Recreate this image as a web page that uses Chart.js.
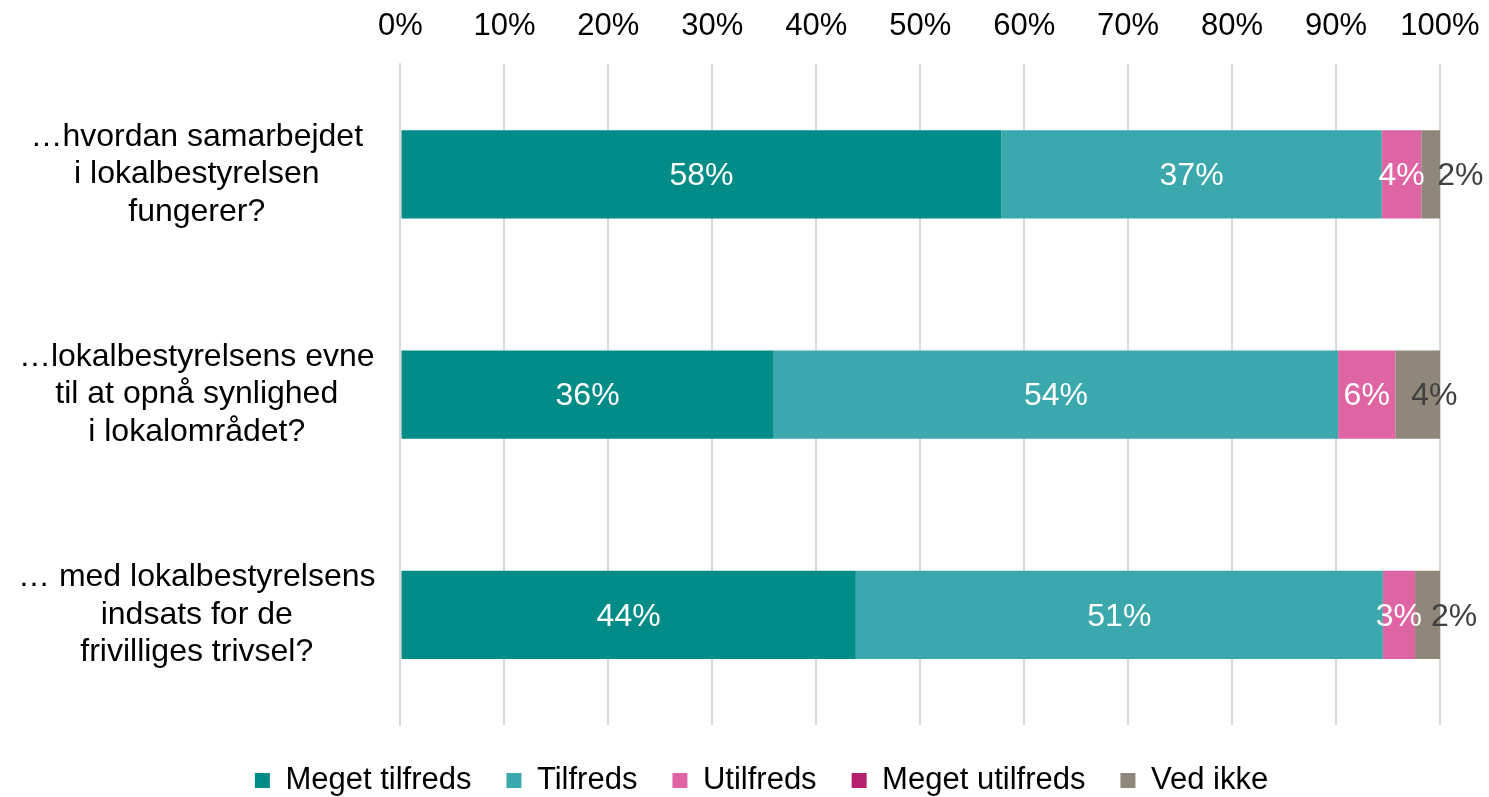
<!DOCTYPE html>
<html>
<head>
<meta charset="utf-8">
<script src="https://cdn.jsdelivr.net/npm/chart.js@4"></script>
<style>
  html, body { margin: 0; padding: 0; background: #fff; }
  #wrap { width: 1489px; height: 797px; }
</style>
</head>
<body>
<div id="wrap"><canvas id="chart1"></canvas></div>
<script>
// questions (y categories)
var questions = [
  ['\u2026hvordan samarbejdet', 'i lokalbestyrelsen', 'fungerer?'],
  ['\u2026lokalbestyrelsens evne', 'til at opn\u00e5 synlighed', 'i lokalomr\u00e5det?'],
  ['\u2026 med lokalbestyrelsens', 'indsats for de', 'frivilliges trivsel?']
]

// series, in percent
var megetTilfreds = [57.8, 35.9, 43.8]
var tilfreds = [36.6, 54.3, 50.7]
var utilfreds = [3.8, 5.5, 3.1]
var megetUtilfreds = [0, 0, 0]
var vedIkke = [1.8, 4.3, 2.4]

var seriesNames = ['Meget tilfreds', 'Tilfreds', 'Utilfreds', 'Meget utilfreds', 'Ved ikke']
var seriesColors = ['#028C87', '#3AA8AC', '#DE64A4', '#B5216E', '#8E877A']

var FONT = "'Liberation Sans', Arial, sans-serif"

var allSeries = [megetTilfreds, tilfreds, utilfreds, megetUtilfreds, vedIkke]

// draws the % labels on the bar segments
var segLabels = {
  id: 'segLabels',
  afterLayout(chart){
    // nudge the legend a bit right and down, like the original
    chart.legend.left += 45
    chart.legend.right += 45
    chart.legend.top += 5
    chart.legend.bottom += 5
  },
  afterDatasetsDraw(chart){
    const ctx = chart.ctx
    ctx.save()
    ctx.font = '32px ' + FONT
    ctx.textBaseline = 'middle'
    chart.data.datasets.forEach((ds, i) => {
      const meta = chart.getDatasetMeta(i)
      meta.data.forEach((bar, j) => {
        const v = ds.data[j]
        if(!v) return
        const txt = Math.round(v) + '%'
        const start = Math.min(bar.x, bar.base)
        const end = Math.max(bar.x, bar.base)
        if(i === 4){
          ctx.fillStyle = '#404040'
          ctx.textAlign = 'left'
          ctx.fillText(txt, start + 16, bar.y + 2)
        } else {
          ctx.fillStyle = '#ffffff'
          ctx.textAlign = 'center'
          ctx.fillText(txt, (start + end) / 2, bar.y + 2)
        }
      })
    })
    ctx.restore()
  }
}

function noEdgePadding(s){
  s.paddingTop = 0
  s.paddingBottom = 0
  s.paddingLeft = 0
  s.paddingRight = 0
}

const ctx = document.getElementById('chart1').getContext('2d')
const chart1 = new Chart(ctx, {
  type: 'bar',
  data: {
    labels: questions,
    datasets: allSeries.map((d, i) => ({
      label: seriesNames[i],
      data: d,
      backgroundColor: seriesColors[i],
      borderWidth: 0,
      barPercentage: 0.4,
      categoryPercentage: 1
    }))
  },
  options: {
    indexAxis: 'y',
    responsive: true,
    maintainAspectRatio: false,
    animation: false,
    layout: { padding: { top: -11, left: -7, right: 49, bottom: -4 } },
    scales: {
      x: {
        position: 'top',
        stacked: true,
        min: 0,
        max: 100,
        afterFit: noEdgePadding,
        ticks: {
          stepSize: 10,
          padding: 19,
          color: '#000',
          font: { family: FONT, size: 31 },
          callback: v => v + '%'
        },
        grid: { color: '#D9D9D9', lineWidth: 2, drawTicks: false },
        border: { display: false }
      },
      y: {
        stacked: true,
        afterFit: noEdgePadding,
        ticks: {
          crossAlign: 'center',
          padding: 25,
          color: '#000',
          font: { family: FONT, size: 32, lineHeight: 1.17 }
        },
        grid: { display: false, drawTicks: false },
        border: { display: true, color: '#D9D9D9', width: 2 }
      }
    },
    plugins: {
      legend: {
        position: 'bottom',
        labels: {
          boxWidth: 15,
          boxHeight: 15,
          padding: 35,
          color: '#000',
          font: { family: FONT, size: 31 }
        }
      },
      tooltip: { enabled: false }
    }
  },
  plugins: [segLabels]
})
</script>
</body>
</html>
